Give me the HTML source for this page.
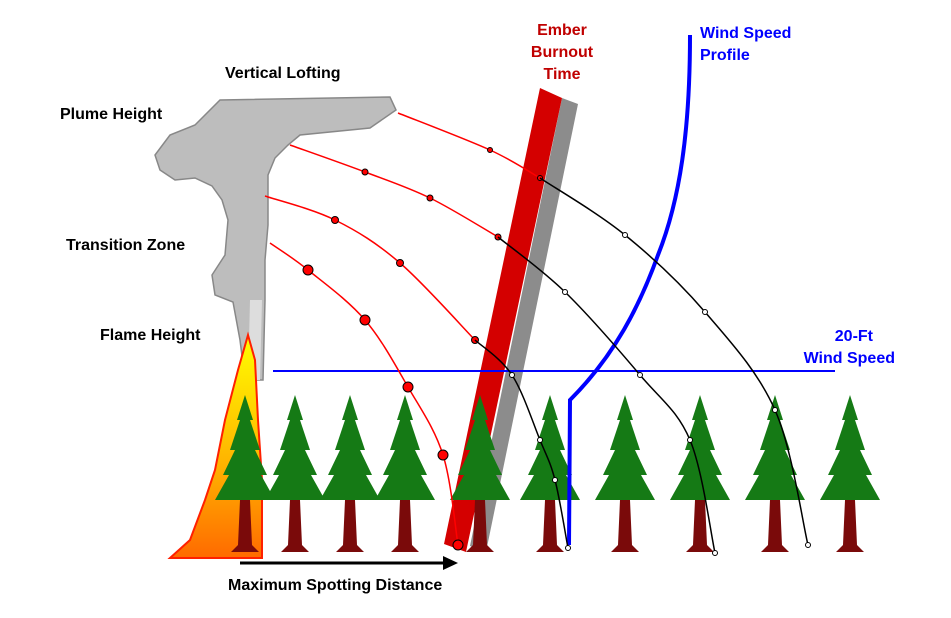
<!DOCTYPE html>
<html><head><meta charset="utf-8"><style>
body{margin:0;background:#fff}
svg{display:block}
text{font-family:"Liberation Sans",sans-serif;font-weight:bold}
</style></head><body>
<svg width="951" height="618" viewBox="0 0 951 618">
<defs>
<linearGradient id="fg" x1="0" y1="0" x2="0" y2="1"><stop offset="0" stop-color="#ffff00"/><stop offset="0.6" stop-color="#ffb000"/><stop offset="1" stop-color="#ff6a00"/></linearGradient>
</defs>
<path d="M220,100 L390,97 L396,110 L370,128 L300,135 L288,145 L275,158 L268,175 L268,225 L265,260 L265,300 L263,380 L245,380 L240,340 L233,302 L215,295 L212,275 L225,255 L228,220 L222,200 L212,186 L195,178 L175,180 L160,170 L155,155 L170,135 L195,125 Z" fill="#bdbdbd" stroke="#888" stroke-width="1.5"/>
<path d="M250,300 L262,300 L260,380 L248,380 Z" fill="#ddd"/>
<path d="M248,335 L255,360 L258,420 L262,480 L262,558 L170,558 L190,540 L205,500 L215,470 L225,420 L238,370 Z" fill="url(#fg)" stroke="#ff2000" stroke-width="2"/>
<polygon points="562,98 578,104 486,552 470,546" fill="#8c8c8c"/>
<polygon points="540,88 562,98 466,552 444,544" fill="#d40000"/>
<g id="trees"></g>
<line x1="273" y1="371" x2="835" y2="371" stroke="#0000ff" stroke-width="2"/>
<path d="M690,35 C690,130 680,200 658,255 C640,305 615,355 570,400 L569,545" fill="none" stroke="#0000ff" stroke-width="4"/>
<g id="traj"></g>
<line x1="240" y1="563" x2="445" y2="563" stroke="#000" stroke-width="3"/>
<polygon points="443,556 458,563 443,570" fill="#000"/>
<text x="225" y="78" font-size="16">Vertical Lofting</text>
<text x="60" y="119" font-size="16">Plume Height</text>
<text x="66" y="250" font-size="16">Transition Zone</text>
<text x="100" y="340" font-size="16">Flame Height</text>
<text x="228" y="590" font-size="16">Maximum Spotting Distance</text>
<text font-size="16" fill="#c00000" text-anchor="middle"><tspan x="562" y="35">Ember</tspan><tspan x="562" y="57">Burnout</tspan><tspan x="562" y="79">Time</tspan></text>
<text font-size="16" fill="#0000ff"><tspan x="700" y="38">Wind Speed</tspan><tspan x="700" y="60">Profile</tspan></text>
<text font-size="16" fill="#0000ff" text-anchor="end"><tspan x="873" y="341">20-Ft</tspan><tspan x="895" y="363">Wind Speed</tspan></text>
</svg>
<script>
const treeX=[245,295,350,405,480,550,625,700,775,850];
const trajRed=[[[398,113],[490,150],[540,178]],[[290,145],[365,172],[430,198],[498,237]],[[265,196],[335,220],[400,263],[475,340]],[[270,243],[308,270],[365,320],[408,387],[443,455],[458,545]]];
const redSize=[2.5,3,3.5,5];
const trajBlack=[[[540,178],[625,235],[705,312],[775,410],[808,545]],[[498,237],[565,292],[640,375],[690,440],[715,553]],[[475,340],[512,375],[540,440],[555,480],[568,548]],[]];
const NS="http://www.w3.org/2000/svg";
const tg=document.getElementById('trees');
treeX.forEach(function(x){
 const t=document.createElementNS(NS,'polygon');
 t.setAttribute('points',[x-5,500,x+5,500,x+7,545,x+14,552,x-14,552,x-7,545].join(' '));
 t.setAttribute('fill','#7a0a0a');
 
 
 tg.appendChild(t);
 const c=document.createElementNS(NS,'polygon');
 c.setAttribute('points',[x,395,x+8,420,x+5,420,x+15,450,x+10,450,x+22,475,x+16,475,x+30,500,x-30,500,x-16,475,x-22,475,x-10,450,x-15,450,x-5,420,x-8,420].join(' '));
 c.setAttribute('fill','#157a15');
 
 
 tg.appendChild(c);
});
const trg=document.getElementById('traj');
function smooth(pts){
 let d='M'+pts[0].join(',');
 for(let i=0;i<pts.length-1;i++){
  const p0=pts[Math.max(0,i-1)],p1=pts[i],p2=pts[i+1],p3=pts[Math.min(pts.length-1,i+2)];
  const c1=[p1[0]+(p2[0]-p0[0])/6,p1[1]+(p2[1]-p0[1])/6];
  const c2=[p2[0]-(p3[0]-p1[0])/6,p2[1]-(p3[1]-p1[1])/6];
  d+=' C'+c1.join(',')+' '+c2.join(',')+' '+p2.join(',');
 }
 return d;
}
function path(pts,color,name,r){
 if(!pts.length)return;
 const p=document.createElementNS(NS,'path');
 p.setAttribute('d',smooth(pts));
 p.setAttribute('fill','none');p.setAttribute('stroke',color);p.setAttribute('stroke-width','1.5');
 
 
 trg.appendChild(p);
 pts.slice(1).forEach(function(a){
  const d=document.createElementNS(NS,'circle');
  d.setAttribute('cx',a[0]);d.setAttribute('cy',a[1]);
  d.setAttribute('r',r);
  d.setAttribute('fill',color=='#ff0000'?'#ff0000':'#fff');d.setAttribute('stroke','#000');
  
  
  trg.appendChild(d);
 });
}
trajRed.forEach((t,i)=>path(t,'#ff0000','ember-path-burning',redSize[i]));
trajBlack.forEach(t=>path(t,'#000000','ember-path-extinguished',2.5));
</script>
</body></html>
